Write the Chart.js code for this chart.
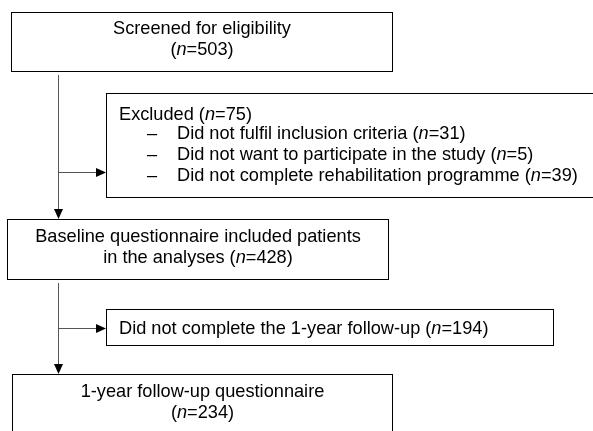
<!DOCTYPE html>
<html>
<head>
<meta charset="utf-8">
<script src="https://cdn.jsdelivr.net/npm/chart.js@4.4.0/dist/chart.umd.min.js"></script>
<style>
  html, body { margin: 0; padding: 0; background: #fff; }
  #flow { display: block; }
</style>
</head>
<body>
<canvas id="flow" width="593" height="431"></canvas>
<script>
// participant flow: labels and counts
const stageLabels = [
    'Screened for eligibility',
    'Excluded',
    'Baseline questionnaire included patients|in the analyses',
    'Did not complete the 1-year follow-up',
    '1-year follow-up questionnaire'
];
const stageCounts = [503, 75, 428, 194, 234];
const exclusionReasons = [
    'Did not fulfil inclusion criteria',
    'Did not want to participate in the study',
    'Did not complete rehabilitation programme'
];
const exclusionCounts = [31, 5, 39];

// box geometry, in the units of the (hidden) x/y scales; firstLine = baseline of first text line
const layout = [
    {x0: 11, x1: 392, y0: 12, y1: 71, align: 'center', countOnNewLine: true, firstLine: 34},
    {x0: 106, x1: 600, y0: 93, y1: 197, align: 'left', textX: 119, firstLine: 120, listStart: 138.5},
    {x0: 7, x1: 388, y0: 219, y1: 279, align: 'center', firstLine: 242},
    {x0: 106, x1: 553, y0: 309, y1: 345, align: 'left', textX: 119, firstLine: 334},
    {x0: 12, x1: 392, y0: 374, y1: 440, align: 'center', countOnNewLine: true, firstLine: 397}
];
const lineGap = 21;
const trunkX = 58;
const branchEndX = 106;
// vertical connectors: from y, to y; branch arrows at y
const connectors = [
    {from: 75, to: 219, branchY: 172},
    {from: 283, to: 374, branchY: 328}
];

const FONT = 'Liberation Sans, Arial, sans-serif';
const SIZE = 18.2;

// a line is a list of runs [text, italic]
function countRuns(prefix, n) {
    return [[prefix + '(', false], ['n', true], ['=' + n + ')', false]];
}

function buildLines(i) {
    const parts = stageLabels[i].split('|');
    const lay = layout[i];
    let lines = parts.map(p => [[p, false]]);
    if (lay.countOnNewLine) {
        lines.push(countRuns('', stageCounts[i]));
    } else {
        const last = lines[lines.length - 1];
        last.push(...countRuns(' ', stageCounts[i]));
    }
    if (i === 1) {
        exclusionReasons.forEach((r, k) => {
            lines.push({bullet: true, idx: k, runs: [[r + ' ', false], ...countRuns('', exclusionCounts[k])]});
        });
    }
    return lines;
}

function runWidth(ctx, runs) {
    let w = 0;
    runs.forEach(([t, it]) => {
        ctx.font = (it ? 'italic ' : '') + SIZE + 'px ' + FONT;
        w += ctx.measureText(t).width;
    });
    return w;
}

function drawRuns(ctx, runs, x, y) {
    runs.forEach(([t, it]) => {
        ctx.font = (it ? 'italic ' : '') + SIZE + 'px ' + FONT;
        ctx.fillText(t, x, y);
        x += ctx.measureText(t).width;
    });
}

function arrowHead(ctx, x, y, dir) {
    ctx.beginPath();
    if (dir === 'down') {
        ctx.moveTo(x, y);
        ctx.lineTo(x - 4.5, y - 10);
        ctx.lineTo(x + 4.5, y - 10);
    } else {
        ctx.moveTo(x, y);
        ctx.lineTo(x - 10, y - 4.5);
        ctx.lineTo(x - 10, y + 4.5);
    }
    ctx.closePath();
    ctx.fill();
}

const flowPlugin = {
    id: 'flowDiagram',
    afterDraw(chart) {
        const ctx = chart.ctx;
        const sx = chart.scales.x, sy = chart.scales.y;
        const px = v => sx.getPixelForValue(v);
        const py = v => sy.getPixelForValue(v);
        ctx.save();

        // connectors
        ctx.strokeStyle = '#555';
        ctx.fillStyle = '#000';
        ctx.lineWidth = 1;
        connectors.forEach(c => {
            const tx = Math.round(px(trunkX)) + 0.5;
            const by = Math.round(py(c.branchY)) + 0.5;
            ctx.beginPath();
            ctx.moveTo(tx, py(c.from));
            ctx.lineTo(tx, py(c.to) - 9);
            ctx.moveTo(tx, by);
            ctx.lineTo(px(branchEndX) - 9, by);
            ctx.stroke();
            arrowHead(ctx, tx, py(c.to), 'down');
            arrowHead(ctx, px(branchEndX), by, 'right');
        });

        // boxes
        ctx.strokeStyle = '#000';
        ctx.lineWidth = 1;
        layout.forEach((lay, i) => {
            const x0 = Math.round(px(lay.x0)) + 0.5, x1 = Math.round(px(lay.x1)) + 0.5;
            const y0 = Math.round(py(lay.y0)) + 0.5, y1 = Math.round(py(lay.y1)) + 0.5;
            ctx.fillStyle = '#fff';
            ctx.fillRect(x0, y0, x1 - x0, y1 - y0);
            ctx.strokeRect(x0, y0, x1 - x0, y1 - y0);

            ctx.fillStyle = '#000';
            ctx.textBaseline = 'alphabetic';
            ctx.textAlign = 'left';
            const lines = buildLines(i);
            lines.forEach((ln, k) => {
                if (ln.bullet) {
                    const y = py(lay.listStart + ln.idx * lineGap);
                    ctx.font = SIZE + 'px ' + FONT;
                    ctx.fillText('\u2013', px(147), y);
                    drawRuns(ctx, ln.runs, px(177), y);
                    return;
                }
                const y = py(lay.firstLine + k * lineGap);
                if (lay.align === 'center') {
                    const w = runWidth(ctx, ln);
                    drawRuns(ctx, ln, (x0 + x1) / 2 - w / 2, y);
                } else {
                    drawRuns(ctx, ln, px(lay.textX), y);
                }
            });
        });
        ctx.restore();
    }
};

new Chart(document.getElementById('flow'), {
    type: 'scatter',
    data: {datasets: [{data: [], showLine: false}]},
    options: {
        responsive: false,
        animation: false,
        events: [],
        layout: {padding: 0},
        plugins: {legend: {display: false}, tooltip: {enabled: false}},
        scales: {
            x: {type: 'linear', min: 0, max: 593, display: false},
            y: {type: 'linear', min: 0, max: 431, reverse: true, display: false}
        }
    },
    plugins: [flowPlugin]
});
</script>
</body>
</html>
